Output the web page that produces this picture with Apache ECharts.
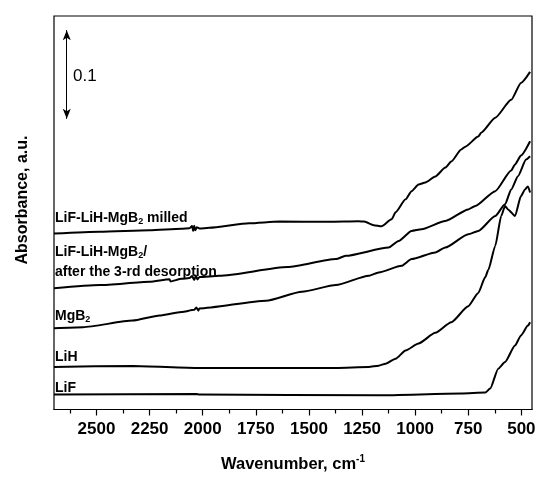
<!DOCTYPE html>
<html>
<head>
<meta charset="utf-8">
<script src="https://cdn.jsdelivr.net/npm/echarts@6/dist/echarts.min.js"></script>
<style>html,body{margin:0;padding:0;background:#fff}#c{width:540px;height:478px}</style>
</head>
<body>
<div id="c"></div>
<script>
// Wavenumber (cm-1) and absorbance (offset, a.u.) per spectrum
var wnMilled = [2700,2484,2250,2100,2062,2050,2045,2040,2035,2028,2015,1969,1781,1641,1406,1266,1240,1195,1158,1111,1092,1045,1017,984,952,905,858,830,783,764,703,689,623,548,502,459];
var absMilled = [0.1985,0.2006,0.2022,0.2040,0.2045,0.2070,0.2015,0.2072,0.2022,0.2055,0.2042,0.2050,0.2101,0.2120,0.2118,0.2124,0.2120,0.2079,0.2067,0.2146,0.2225,0.2371,0.2464,0.2539,0.2562,0.2629,0.2730,0.2798,0.2933,0.2966,0.3079,0.3124,0.3292,0.3494,0.3685,0.3809];

var wnDesorb = [2700,2484,2250,2156,2152,2100,2062,2050,2040,2032,2025,2015,1922,1600,1373,1327,1125,1078,1017,970,858,750,717,623,548,530,502,459];
var absDesorb = [0.1367,0.1404,0.1442,0.1470,0.1445,0.1475,0.1483,0.1505,0.1462,0.1508,0.1468,0.1495,0.1509,0.1607,0.1697,0.1734,0.1828,0.1902,0.2015,0.2034,0.2127,0.2258,0.2296,0.2464,0.2697,0.2764,0.2865,0.3026];

var wnMgB2 = [2700,2564,2330,2203,2100,2040,2030,2020,2016,1702,1533,1373,1219,1172,1064,1017,905,858,750,703,623,577,548,516,478,459];
var absMgB2 = [0.0918,0.0929,0.1003,0.1060,0.1100,0.1125,0.1150,0.1115,0.1140,0.1228,0.1329,0.1404,0.1509,0.1547,0.1621,0.1697,0.1772,0.1828,0.1978,0.2015,0.2183,0.2315,0.2483,0.2633,0.2820,0.2857];

var wnLiH = [2700,2330,2016,1688,1373,1219,1172,1139,1092,1045,984,905,830,750,703,670,656,623,595,577,563,530,502,483,469,459];
var absLiH = [0.0480,0.0491,0.0469,0.0469,0.0469,0.0480,0.0495,0.0517,0.0573,0.0666,0.0745,0.0865,0.0985,0.1165,0.1315,0.1494,0.1573,0.1846,0.2183,0.2296,0.2258,0.2183,0.2408,0.2483,0.2517,0.2449];

var wnLiF = [2700,2030,2016,1172,783,670,647,609,577,530,502,469,459];
var absLiF = [0.0169,0.0175,0.0169,0.0161,0.0180,0.0191,0.0236,0.0461,0.0536,0.0722,0.0835,0.0947,0.0985];

var xLabelTicks = [2500,2250,2000,1750,1500,1250,1000,750,500];
var xMinorTicks = [2625,2375,2125,1875,1625,1375,1125,875,625];

var scaleBarX = 2640;
var scaleBarY = [0.428, 0.328];

function pairs(w, a) { return w.map(function (x, i) { return [x, a[i]]; }); }

var FONT = 'Liberation Sans, Arial, sans-serif';
var chart = echarts.init(document.getElementById('c'), null, {renderer: 'canvas'});

function mkLine(name, w, a) {
  return {
    name: name, type: 'line', data: pairs(w, a), showSymbol: false, symbol: 'none',
    smooth: 0.2, smoothMonotone: 'x', lineStyle: {color: '#000', width: 2}, silent: true, animation: false
  };
}

var series = [
  mkLine('milled', wnMilled, absMilled),
  mkLine('desorb', wnDesorb, absDesorb),
  mkLine('MgB2', wnMgB2, absMgB2),
  mkLine('LiH', wnLiH, absLiH),
  mkLine('LiF', wnLiF, absLiF),
  {
    type: 'line', data: [], animation: false, silent: true,
    markLine: {
      silent: true, animation: false,
      symbol: ['arrow', 'arrow'], symbolSize: [6, 10],
      lineStyle: {color: '#000', width: 1, type: 'solid'},
      label: {show: false},
      data: [[{coord: [scaleBarX, scaleBarY[0]]}, {coord: [scaleBarX, scaleBarY[1]]}]]
    }
  }
];

var txt = function (x, y, rich) {
  return {type: 'text', left: x, top: y, silent: true,
    style: {text: rich, font: 'bold 14px ' + FONT, fill: '#000',
      rich: {sub: {fontSize: 9, fontWeight: 'bold', fontFamily: FONT, verticalAlign: 'bottom', padding: [8, 0, 0, 0]}}}};
};

chart.setOption({
  animation: false,
  backgroundColor: '#fff',
  grid: {left: 54, top: 16, right: 8, bottom: 67, show: true, borderColor: '#000', borderWidth: 1.2},
  xAxis: [{
    type: 'value', min: 450, max: 2700, inverse: true,
    name: 'Wavenumber, cm{sup|-1}', nameLocation: 'middle', nameGap: 45,
    nameTextStyle: {fontFamily: FONT, fontWeight: 'bold', fontSize: 16.5, color: '#000',
      rich: {sup: {fontSize: 10, fontWeight: 'bold', fontFamily: FONT, verticalAlign: 'top', padding: [0, 0, 10, 0]}}},
    axisLine: {show: true, lineStyle: {color: '#000', width: 1.2}},
    axisTick: {show: true, inside: false, length: 6, lineStyle: {color: '#000', width: 1.2}, customValues: xLabelTicks},
    axisLabel: {customValues: xLabelTicks, formatter: function (v) { return String(v); },
      fontFamily: FONT, fontWeight: 'bold', fontSize: 17, color: '#000', margin: 11},
    splitLine: {show: false}
  }, {
    type: 'value', min: 450, max: 2700, inverse: true, position: 'bottom',
    axisLine: {show: false},
    axisTick: {show: true, inside: false, length: 4, lineStyle: {color: '#000', width: 1.2}, customValues: xMinorTicks},
    axisLabel: {show: false}, splitLine: {show: false}
  }],
  yAxis: {
    type: 'value', min: 0, max: 0.444,
    axisLine: {show: false}, axisTick: {show: false}, axisLabel: {show: false}, splitLine: {show: false}
  },
  graphic: [
    {type: 'text', x: 23, y: 200, rotation: Math.PI / 2, silent: true,
      style: {text: 'Absorbance, a.u.', font: 'bold 16px ' + FONT, fill: '#000', align: 'center', verticalAlign: 'middle'}},
    {type: 'text', left: 73, top: 68, silent: true, style: {text: '0.1', font: '17px ' + FONT, fill: '#000'}},
    txt(55, 211, 'LiF-LiH-MgB{sub|2} milled'),
    txt(55, 245, 'LiF-LiH-MgB{sub|2}/'),
    txt(55, 265, 'after the 3-rd desorption'),
    txt(55, 309, 'MgB{sub|2}'),
    txt(55, 350, 'LiH'),
    txt(55, 381, 'LiF')
  ],
  series: series
});
</script>
</body>
</html>
